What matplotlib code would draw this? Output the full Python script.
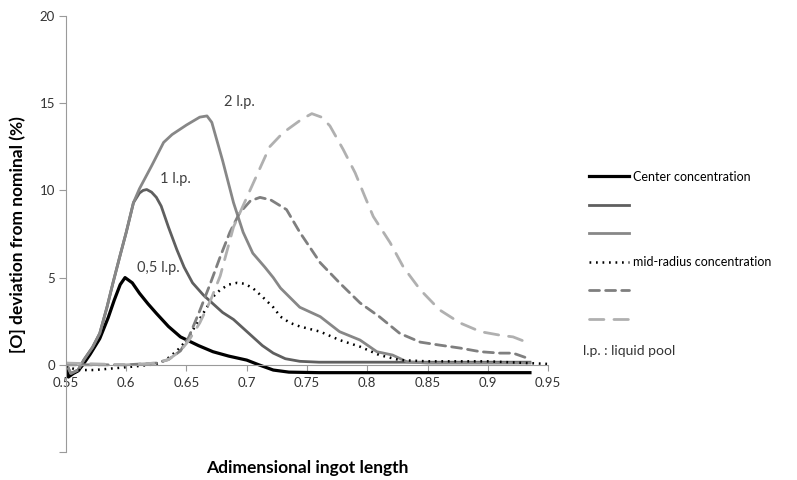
import matplotlib.pyplot as plt
from matplotlib.ticker import FixedLocator, FuncFormatter

plt.rcParams['font.family'] = ['Lato', 'DejaVu Sans']

# center concentration, 0.5 l.p.
center_x = [0.55, 0.552, 0.556, 0.56, 0.564, 0.57, 0.578, 0.585, 0.59, 0.595, 0.599,
            0.605, 0.611, 0.618, 0.625, 0.635, 0.645, 0.66, 0.672, 0.685, 0.70, 0.71,
            0.722, 0.735, 0.76, 0.8, 0.85, 0.9, 0.935]
center_y = [0.0, -0.7, -0.5, -0.35, 0.0, 0.6, 1.5, 2.7, 3.7, 4.6, 5.0,
            4.7, 4.1, 3.5, 2.95, 2.2, 1.6, 1.1, 0.75, 0.5, 0.27, 0.0,
            -0.3, -0.42, -0.45, -0.45, -0.45, -0.45, -0.45]

# center concentration, 1 l.p.
lp1_x = [0.55, 0.554, 0.56, 0.565, 0.572, 0.578, 0.584, 0.589, 0.595, 0.6, 0.606,
         0.611, 0.614, 0.617, 0.621, 0.625, 0.629, 0.635, 0.642, 0.648, 0.655, 0.664,
         0.672, 0.68, 0.689, 0.697, 0.705, 0.713, 0.722, 0.732, 0.744, 0.76, 0.8,
         0.85, 0.9, 0.935]
lp1_y = [0.1, -0.5, -0.3, 0.3, 1.0, 1.8, 3.3, 4.7, 6.3, 7.6, 9.3,
         9.85, 10.0, 10.05, 9.9, 9.6, 9.1, 7.9, 6.6, 5.6, 4.7, 4.0,
         3.5, 3.0, 2.6, 2.1, 1.6, 1.1, 0.67, 0.35, 0.2, 0.15, 0.15,
         0.15, 0.15, 0.15]

# center concentration, 2 l.p.
lp2_x = [0.55, 0.554, 0.56, 0.565, 0.572, 0.578, 0.584, 0.589, 0.595, 0.6, 0.606,
         0.611, 0.621, 0.631, 0.638, 0.65, 0.661, 0.667, 0.671, 0.68, 0.689, 0.697,
         0.705, 0.715, 0.722, 0.728, 0.744, 0.761, 0.777, 0.794, 0.808, 0.821, 0.833,
         0.85, 0.9, 0.935]
lp2_y = [0.1, -0.5, -0.3, 0.3, 1.0, 1.8, 3.3, 4.7, 6.3, 7.6, 9.3,
         10.1, 11.4, 12.75, 13.2, 13.75, 14.2, 14.27, 13.9, 11.7, 9.3, 7.6,
         6.4, 5.6, 5.0, 4.4, 3.3, 2.76, 1.9, 1.42, 0.75, 0.56, 0.17,
         0.1, 0.1, 0.1]

# mid-radius concentration, 0.5 l.p.
mid_x = [0.55, 0.56, 0.573, 0.59, 0.606, 0.62, 0.628, 0.635, 0.642, 0.65, 0.658,
         0.667, 0.672, 0.678, 0.685, 0.692, 0.698, 0.705, 0.713, 0.722, 0.728,
         0.736, 0.744, 0.761, 0.777, 0.794, 0.81, 0.827, 0.85, 0.9, 0.95]
mid_y = [-0.1, -0.3, -0.3, -0.2, -0.1, 0.0, 0.1, 0.4, 0.8, 1.4, 2.3,
         3.3, 3.9, 4.3, 4.6, 4.7, 4.65, 4.4, 3.9, 3.3, 2.76,
         2.4, 2.2, 1.9, 1.42, 1.04, 0.56, 0.27, 0.2, 0.2, 0.05]

# mid-radius concentration, 1 l.p.
mid1_x = [0.55, 0.6, 0.625, 0.635, 0.645, 0.652, 0.661, 0.67, 0.678, 0.686, 0.694,
          0.703, 0.711, 0.72, 0.733, 0.744, 0.761, 0.777, 0.794, 0.81,
          0.827, 0.844, 0.86, 0.877, 0.894, 0.91, 0.921, 0.935]
mid1_y = [0.0, 0.0, 0.1, 0.3, 0.8, 1.6, 3.1, 4.7, 6.2, 7.6, 8.7,
          9.4, 9.6, 9.45, 8.9, 7.6, 5.85, 4.7, 3.55, 2.76,
          1.8, 1.3, 1.13, 0.96, 0.75, 0.67, 0.67, 0.33]

# mid-radius concentration, 2 l.p.
mid2_x = [0.55, 0.6, 0.625, 0.635, 0.645, 0.652, 0.661, 0.67, 0.678, 0.689, 0.703,
          0.719, 0.73, 0.738, 0.746, 0.754, 0.762, 0.769, 0.78, 0.79, 0.798,
          0.805, 0.819, 0.83, 0.844, 0.86, 0.877, 0.894, 0.91, 0.921, 0.934]
mid2_y = [0.1, 0.0, 0.1, 0.3, 0.8, 1.4, 2.4, 3.7, 5.1, 7.9, 10.05,
          12.5, 13.3, 13.7, 14.1, 14.4, 14.2, 13.7, 12.35, 11.0, 9.65,
          8.5, 7.0, 5.6, 4.3, 3.15, 2.4, 1.9, 1.7, 1.6, 1.25]

legend_labels = ["Center concentration", "", "", "mid-radius concentration", "", ""]

fig = plt.figure(figsize=(7.97, 4.80), dpi=100)
ax = fig.add_axes([0.0828, 0.0583, 0.6048, 0.9084])

h1, = ax.plot(center_x, center_y, color="black", lw=2.3)
h2, = ax.plot(lp1_x, lp1_y, color="#5f5f5f", lw=2.0)
h3, = ax.plot(lp2_x, lp2_y, color="#878787", lw=2.0)
h4, = ax.plot(mid_x, mid_y, color="black", lw=1.8, dashes=(0.7, 1.9))
h5, = ax.plot(mid1_x, mid1_y, color="#7f7f7f", lw=2.0, dashes=(3.6, 2.2), dash_capstyle="round")
h6, = ax.plot(mid2_x, mid2_y, color="#b0b0b0", lw=2.0, dashes=(5.2, 3.6), dash_capstyle="round")

ax.set_xlim(0.55, 0.95)
ax.set_ylim(-5, 20)

for s in ["top", "right"]:
    ax.spines[s].set_visible(False)
ax.spines["bottom"].set_position(("data", 0))
ax.spines["bottom"].set_color("#9a9a9a")
ax.spines["left"].set_color("#9a9a9a")

ax.xaxis.set_major_locator(FixedLocator([0.55, 0.6, 0.65, 0.7, 0.75, 0.8, 0.85, 0.9, 0.95]))
ax.xaxis.set_major_formatter(FuncFormatter(lambda v, p: f"{v:g}"))
ax.yaxis.set_major_locator(FixedLocator([-5, 0, 5, 10, 15, 20]))
ax.yaxis.set_major_formatter(FuncFormatter(lambda v, p: "" if v < 0 else f"{v:g}"))
ax.tick_params(axis="x", direction="out", length=4, color="#9a9a9a", labelsize=9.5,
               labelcolor="#333333", pad=5)
ax.tick_params(axis="y", direction="out", length=5, color="#9a9a9a", labelsize=9.5,
               labelcolor="#333333", pad=3)

ax.set_ylabel("[O] deviation from nominal (%)", fontsize=12.5, fontweight="bold")
ax.yaxis.set_label_coords(-0.083, 0.498)
ax.set_xlabel("Adimensional ingot length", fontsize=12.5, fontweight="bold")
ax.xaxis.set_label_coords(0.5, -0.018)

ax.text(0.694, 15.05, "2 l.p.", fontsize=10.5, color="#404040", ha="center", va="center")
ax.text(0.641, 10.67, "1 l.p.", fontsize=10.5, color="#404040", ha="center", va="center")
ax.text(0.627, 5.56, "0,5 l.p.", fontsize=10.5, color="#404040", ha="center", va="center")

fig.legend([h1, h2, h3, h4, h5, h6], legend_labels, loc="upper left",
           bbox_to_anchor=(0.725, 0.668), frameon=False, fontsize=9,
           handlelength=3.2, handletextpad=0.3, labelspacing=1.32)
fig.text(583 / 797, 1 - 351 / 480, "l.p. : liquid pool", fontsize=10, color="#333333",
         ha="left", va="center")

fig.savefig("out.png", dpi=100)
